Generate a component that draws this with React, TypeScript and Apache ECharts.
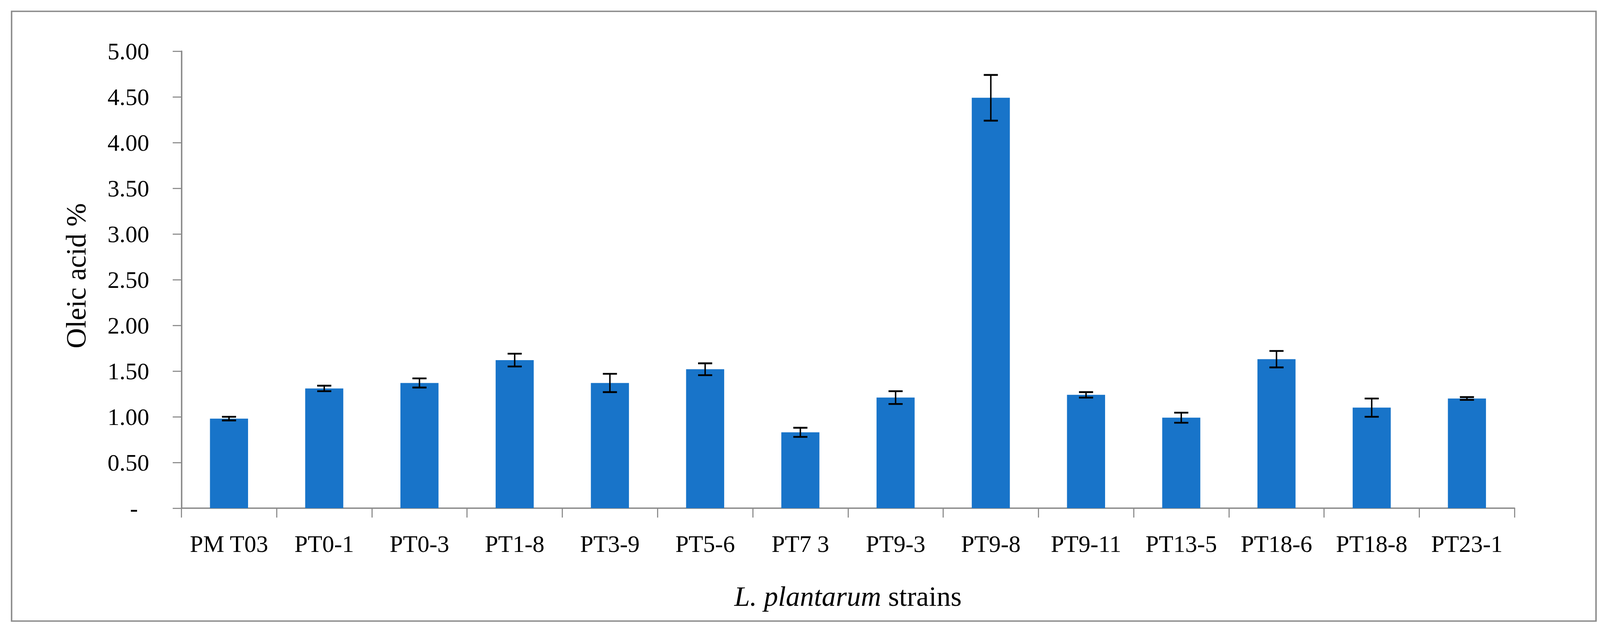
import React, { useEffect, useRef } from "react";
import * as echarts from "echarts";

const categories = [
  "PM T03", "PT0-1", "PT0-3", "PT1-8", "PT3-9", "PT5-6", "PT7 3",
  "PT9-3", "PT9-8", "PT9-11", "PT13-5", "PT18-6", "PT18-8", "PT23-1",
];
const oleicMeans = [0.98, 1.31, 1.37, 1.62, 1.37, 1.52, 0.83, 1.21, 4.49, 1.24, 0.99, 1.63, 1.1, 1.2];
const oleicErrors = [0.02, 0.03, 0.05, 0.07, 0.1, 0.065, 0.05, 0.07, 0.25, 0.03, 0.055, 0.09, 0.1, 0.015];
const yMin = 0;
const yMax = 5;
const yStep = 0.5;

const FONT = "'Liberation Serif', 'DejaVu Serif', serif";
const AXIS_GRAY = "#8a8a8a";
const BAR_BLUE = "#1874c9";
const REF_W = 4419;
const REF_H = 1618;

export default function App() {
  const ref = useRef<HTMLDivElement>(null);

  useEffect(() => {
    if (!ref.current) return;
    const chart = echarts.init(ref.current, undefined, { renderer: "svg" });
    const W = chart.getWidth();
    const H = chart.getHeight();
    const sx = W / REF_W;
    const sy = H / REF_H;
    const sf = Math.min(sx, sy);
    const X = (v: number) => v * sx;
    const Y = (v: number) => v * sy;
    const F = (v: number) => Math.round(v * sf);

    const errData = oleicMeans.map((m, i) => [i, m - oleicErrors[i], m + oleicErrors[i]]);
    const tickFont = F(66);
    const titleFont = F(78);

    chart.setOption({
      animation: false,
      backgroundColor: "#ffffff",
      grid: { left: X(501), right: X(236), top: Y(131), bottom: Y(317), containLabel: false },
      graphic: [
        {
          type: "rect",
          shape: { x: X(32), y: Y(29), width: X(4376), height: Y(1561) },
          style: { fill: "none", stroke: AXIS_GRAY, lineWidth: Math.max(1, 4 * sf) },
          silent: true,
        },
        {
          type: "text",
          x: X(210),
          y: Y(706),
          rotation: Math.PI / 2,
          style: {
            text: "Oleic acid %",
            font: `${titleFont}px ${FONT}`,
            fill: "#000",
            textAlign: "center",
            textVerticalAlign: "middle",
          },
          silent: true,
        },
      ],
      xAxis: {
        type: "category",
        data: categories,
        boundaryGap: true,
        axisLine: { show: true, lineStyle: { color: AXIS_GRAY, width: Math.max(1, 4 * sf) } },
        axisTick: {
          show: true,
          length: Y(24),
          interval: 0,
          alignWithLabel: false,
          lineStyle: { color: AXIS_GRAY, width: Math.max(1, 3 * sf) },
        },
        axisLabel: {
          interval: 0,
          margin: Y(58) - (tickFont - 66 * sy) / 2,
          fontFamily: FONT,
          fontSize: tickFont,
          lineHeight: tickFont,
          color: "#000",
        },
        name: "{i|L. plantarum} strains",
        nameLocation: "middle",
        nameGap: Y(1527 - 1301) - titleFont / 2,
        nameTextStyle: {
          fontFamily: FONT,
          fontSize: titleFont,
          lineHeight: titleFont,
          color: "#000",
          rich: {
            i: { fontFamily: FONT, fontSize: titleFont, lineHeight: titleFont, fontStyle: "italic", color: "#000" },
          },
        },
        splitLine: { show: false },
      },
      yAxis: {
        type: "value",
        min: yMin,
        max: yMax,
        interval: yStep,
        axisLine: { show: true, lineStyle: { color: AXIS_GRAY, width: Math.max(1, 4 * sf) } },
        axisTick: { show: true, length: X(24), lineStyle: { color: AXIS_GRAY, width: Math.max(1, 3 * sf) } },
        splitLine: { show: false },
        axisLabel: {
          margin: X(89),
          fontFamily: FONT,
          fontSize: tickFont,
          color: "#000",
          formatter: (v: number) => (v === 0 ? "{d|-}" : v.toFixed(2)),
          rich: {
            d: { fontFamily: FONT, fontSize: tickFont, color: "#000", padding: [0, X(31), 0, 0] },
          },
        },
      },
      series: [
        {
          type: "bar",
          data: oleicMeans,
          barWidth: "40%",
          itemStyle: { color: BAR_BLUE },
          z: 2,
        },
        {
          type: "custom",
          data: errData,
          encode: { x: 0, y: [1, 2] },
          z: 5,
          renderItem: (params: any, api: any) => {
            const i = api.value(0);
            const lo = api.coord([i, api.value(1)]);
            const hi = api.coord([i, api.value(2)]);
            const half = X(19.5);
            const s = { stroke: "#000", lineWidth: Math.max(1, 4 * sf) };
            const c = { stroke: "#000", lineWidth: Math.max(1, 5 * sf) };
            return {
              type: "group",
              children: [
                { type: "line", shape: { x1: lo[0], y1: lo[1], x2: hi[0], y2: hi[1] }, style: s },
                { type: "line", shape: { x1: hi[0] - half, y1: hi[1], x2: hi[0] + half, y2: hi[1] }, style: c },
                { type: "line", shape: { x1: lo[0] - half, y1: lo[1], x2: lo[0] + half, y2: lo[1] }, style: c },
              ],
            };
          },
        },
      ],
    });

    return () => chart.dispose();
  }, []);

  return (
    <div
      ref={ref}
      style={{ position: "fixed", left: 0, top: 0, width: "100vw", height: "100vh", background: "#fff" }}
    />
  );
}
